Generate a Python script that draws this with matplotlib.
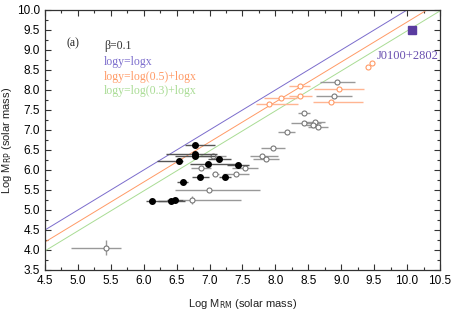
import numpy as np
import matplotlib
matplotlib.use('Agg')
from matplotlib import pyplot as plt

# filled black points: log M_RM, log M_RP, x error (low, high)
fill_x = [6.78, 6.78, 6.78, 6.53, 7.15, 6.97, 7.43, 6.59, 6.86, 7.24, 6.13, 6.42, 6.47]
fill_y = [6.63, 6.41, 6.36, 6.22, 6.27, 6.15, 6.13, 5.69, 5.83, 5.83, 5.23, 5.23, 5.25]
fill_xlo = [0.16, 0.44, 0.30, 0.33, 0.17, 0.27, 0.17, 0.08, 0.13, 0.09, 0.09, 0.20, 0.12]
fill_xhi = [0.31, 0.34, 0.30, 0.07, 0.17, 0.43, 0.17, 0.08, 0.13, 0.09, 0.34, 0.20, 0.12]

# open gray points
open_x = [8.94, 8.89, 8.43, 8.44, 8.60, 8.57, 8.65, 8.17, 7.96, 7.79, 7.86,
          7.54, 7.40, 7.05, 6.87, 7.09, 6.99, 6.73, 5.42]
open_y = [8.19, 7.84, 7.43, 7.18, 7.21, 7.13, 7.07, 6.94, 6.54, 6.36, 6.27,
          6.06, 5.90, 6.35, 6.04, 5.90, 5.49, 5.25, 4.06]
open_xlo = [0.27, 0.27, 0.09, 0.20, 0.15, 0.10, 0.15, 0.13, 0.18, 0.18, 0.20,
            0.20, 0.20, 0.20, 0.15, 0.05, 0.52, 0.14, 0.53]
open_xhi = [0.27, 0.27, 0.09, 0.25, 0.15, 0.10, 0.15, 0.13, 0.18, 0.25, 0.20,
            0.20, 0.20, 0.20, 0.15, 0.05, 0.78, 0.75, 0.23]
open_yerr = [0.05, 0.05, 0.05, 0.05, 0.05, 0.05, 0.05, 0.05, 0.05, 0.05, 0.05,
             0.05, 0.05, 0.05, 0.05, 0.05, 0.05, 0.10, 0.19]

# open orange points
orng_x = [8.37, 8.38, 8.08, 7.90, 8.85, 8.97, 9.41, 9.47]
orng_y = [8.11, 7.84, 7.80, 7.64, 7.71, 8.02, 8.57, 8.68]
orng_xlo = [0.16, 0.17, 0.25, 0.20, 0.28, 0.38, 0.0, 0.0]
orng_xhi = [0.16, 0.17, 0.25, 0.45, 0.48, 0.38, 0.0, 0.0]

# J0100+2802
j_x, j_y = 10.07, 9.51

c_blue = '#7b6ccc'
c_orng = '#ff9a66'
c_green = '#a9dc94'

plt.rcParams['font.family'] = ['Liberation Sans', 'DejaVu Sans']
fig = plt.figure(figsize=(4.53, 3.15), dpi=100)
ax = fig.add_axes([0.0993, 0.1429, 0.872, 0.8254])

xl = np.array([4.5, 10.5])
ax.plot(xl, xl, color=c_blue, lw=0.7)
ax.plot(xl, xl + np.log10(0.5), color=c_orng, lw=0.7)
ax.plot(xl, xl + np.log10(0.3), color=c_green, lw=0.7)

ax.errorbar(orng_x, orng_y, xerr=[orng_xlo, orng_xhi], fmt='o', ms=3.6,
            mfc='white', mec=c_orng, mew=0.8, ecolor='#ffb592', elinewidth=1.0,
            capsize=0, zorder=3)
ax.errorbar(open_x, open_y, xerr=[open_xlo, open_xhi], yerr=open_yerr, fmt='o',
            ms=3.6, mfc='white', mec='#777777', mew=0.8, ecolor='#999999',
            elinewidth=1.0, capsize=0, zorder=3)
ax.errorbar(fill_x, fill_y, xerr=[fill_xlo, fill_xhi], fmt='o', ms=4,
            mfc='black', mec='black', ecolor='#555555', elinewidth=1.0,
            capsize=0, zorder=4)
ax.plot(j_x, j_y, 's', ms=5.5, color='#5a3ca0', zorder=5)

serif = ['Liberation Serif', 'DejaVu Serif']
ax.text(9.54, 8.86, 'J0100+2802', color='#6a50b0', fontsize=9,
        family=serif, va='center')
ax.text(4.83, 9.16, '(a)', fontsize=8.5, family=serif, color='#222222', va='center')
ax.text(5.4, 9.09, 'β=0.1', fontsize=8.5, family=serif, color='#333333', va='center')
ax.text(5.4, 8.71, 'logy=logx', fontsize=8.5, family=serif, color=c_blue, va='center')
ax.text(5.4, 8.33, 'logy=log(0.5)+logx', fontsize=8.5, family=serif, color=c_orng, va='center')
ax.text(5.4, 7.97, 'logy=log(0.3)+logx', fontsize=8.5, family=serif, color=c_green, va='center')

ax.set_xlim(4.5, 10.5)
ax.set_ylim(3.5, 10.0)
ax.set_xticks(np.arange(4.5, 10.51, 0.5))
ax.set_yticks(np.arange(3.5, 10.01, 0.5))
ax.set_xticks(np.arange(4.5, 10.51, 0.25), minor=True)
ax.set_yticks(np.arange(3.5, 10.01, 0.25), minor=True)
ax.xaxis.set_major_formatter(matplotlib.ticker.FormatStrFormatter('%.1f'))
ax.yaxis.set_major_formatter(matplotlib.ticker.FormatStrFormatter('%.1f'))
ax.tick_params(which='both', direction='in', top=True, right=True,
               labelsize=8.5, width=0.8, color='#333333')
ax.tick_params(which='major', length=4.5)
ax.tick_params(which='minor', length=2.5)
for s in ax.spines.values():
    s.set_linewidth(0.9)
    s.set_color('#333333')

ax.set_xlabel('Log M$_{\\mathrm{RM}}$ (solar mass)', fontsize=8, color='#222222')
ax.set_ylabel('Log M$_{\\mathrm{RP}}$ (solar mass)', fontsize=8, color='#222222')
ax.yaxis.set_label_coords(-0.078, 0.5)
ax.xaxis.set_label_coords(0.5, -0.105)

fig.savefig('out.png', dpi=100)
